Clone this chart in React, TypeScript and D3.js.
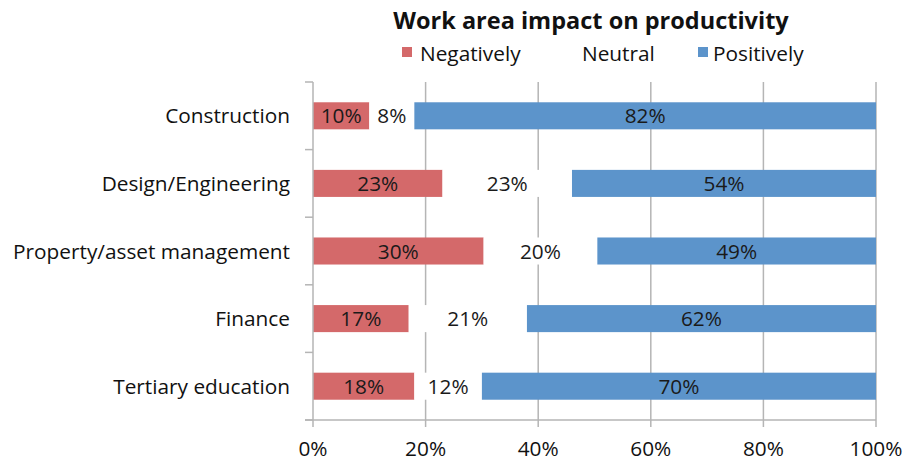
import React from "react";
import * as d3 from "d3";

const categories = ["Construction", "Design/Engineering", "Property/asset management", "Finance", "Tertiary education"];
const seriesNames = ["Negatively", "Neutral", "Positively"];
const negatively = [10, 23, 30, 17, 18];
const neutral = [8, 23, 20, 21, 12];
const positively = [82, 54, 49, 62, 70];
const tickValues = [0, 0.2, 0.4, 0.6, 0.8, 1];
const title = "Work area impact on productivity";

const colors = ["#d4696a", "#ffffff", "#5c94cb"];
const FONT = "'Open Sans', Lato, sans-serif";

export default function App() {
  const W = 903, H = 463;
  const x0 = 313, x1 = 876, yTop = 82, yBot = 420;
  const rows = categories.map((c, i) => ({ cat: c, Negatively: negatively[i], Neutral: neutral[i], Positively: positively[i] }));
  const stack = d3.stack<any>().keys(seriesNames).offset(d3.stackOffsetExpand);
  const layers = stack(rows);
  const x = d3.scaleLinear().domain([0, 1]).range([x0, x1]);
  const y = d3.scaleBand().domain(categories).range([yTop, yBot]).paddingInner(0.6).paddingOuter(0.3);
  const band = d3.scaleBand().domain(categories).range([yTop, yBot]);
  const values = [negatively, neutral, positively];
  const grid = "#b5b5b5";
  const fs = 20.8;

  const legendItems = [
    { name: "Negatively", sx: 402, tx: 420, color: colors[0], swatch: true },
    { name: "Neutral", sx: 0, tx: 582, color: colors[1], swatch: false },
    { name: "Positively", sx: 698, tx: 713, color: colors[2], swatch: true },
  ];

  return (
    <svg width={W} height={H} style={{ position: "absolute", left: 0, top: 0, background: "#fff" }} fontFamily={FONT}>
      <text x={591} y={29} textAnchor="middle" fontSize={23.5} fontWeight="bold" fill="#111">{title}</text>
      {legendItems.map((l) => (
        <g key={l.name}>
          {l.swatch && <rect x={l.sx} y={47} width={10} height={10} fill={l.color} />}
          <text x={l.tx} y={61} fontSize={fs} fill="#111">{l.name}</text>
        </g>
      ))}
      {tickValues.slice(1).map((t) => (
        <line key={t} x1={x(t)} x2={x(t)} y1={yTop} y2={yBot} stroke={grid} strokeWidth={1.5} />
      ))}
      {layers.map((layer, li) => (
        <g key={layer.key}>
          {layer.map((d, i) => (
            <rect key={i} x={x(d[0])} y={y(categories[i])} width={x(d[1]) - x(d[0])} height={y.bandwidth()} fill={colors[li]} />
          ))}
        </g>
      ))}
      {layers.map((layer, li) => (
        <g key={"l" + layer.key}>
          {layer.map((d, i) => (
            <text key={i} x={(x(d[0]) + x(d[1])) / 2} y={(y(categories[i]) as number) + y.bandwidth() / 2 + 7.5}
              textAnchor="middle" fontSize={fs} fill="#1a1a1a">{values[li][i]}%</text>
          ))}
        </g>
      ))}
      <line x1={x0} x2={x0} y1={yTop} y2={yBot} stroke={grid} strokeWidth={1.5} />
      {d3.range(categories.length + 1).map((i) => {
        const yy = i < categories.length ? (band(categories[i]) as number) : yBot;
        return <line key={i} x1={x0 - 8} x2={x0} y1={yy} y2={yy} stroke={grid} strokeWidth={1.5} />;
      })}
      <line x1={x0 - 8} x2={x1} y1={yBot} y2={yBot} stroke={grid} strokeWidth={1.5} />
      {tickValues.map((t) => (
        <g key={"t" + t}>
          <line x1={x(t)} x2={x(t)} y1={yBot} y2={yBot + 7} stroke={grid} strokeWidth={1.5} />
          <text x={x(t)} y={456} textAnchor="middle" fontSize={fs} fill="#111">{d3.format(".0%")(t)}</text>
        </g>
      ))}
      {categories.map((c) => (
        <text key={c} x={290} y={(y(c) as number) + y.bandwidth() / 2 + 7.5} textAnchor="end" fontSize={fs} fill="#111">{c}</text>
      ))}
    </svg>
  );
}
